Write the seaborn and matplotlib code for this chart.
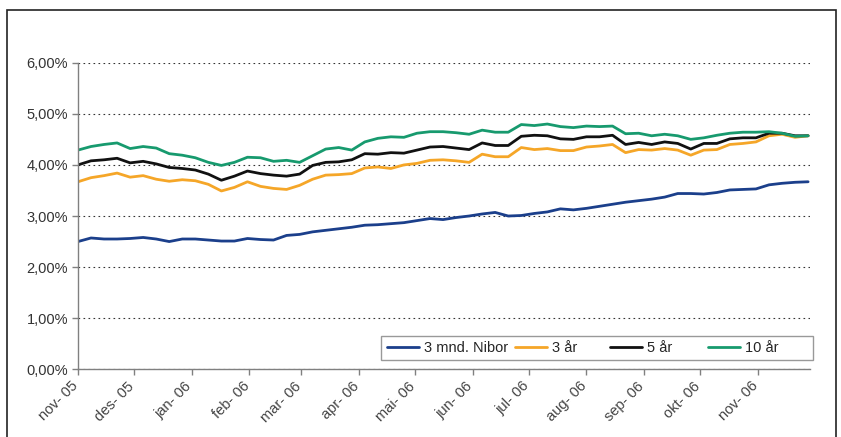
import pandas as pd
import matplotlib
matplotlib.use('Agg')
import matplotlib.pyplot as plt
import matplotlib.ticker as mticker
from matplotlib.patches import Rectangle
from matplotlib.transforms import ScaledTranslation
import seaborn as sns

# weekly readings, Nov 1 2005 - Nov 28 2006 (percent)
dates = pd.date_range('2005-11-01', periods=57, freq='7D')

nibor_3m = [2.50, 2.57, 2.55, 2.55, 2.56, 2.58, 2.55, 2.50, 2.55, 2.55,
            2.53, 2.51, 2.51, 2.56, 2.54, 2.53, 2.62, 2.64, 2.69, 2.72,
            2.75, 2.78, 2.82, 2.83, 2.85, 2.87, 2.91, 2.95, 2.93, 2.97,
            3.00, 3.04, 3.07, 3.00, 3.01, 3.05, 3.08, 3.14, 3.12, 3.15,
            3.19, 3.23, 3.27, 3.30, 3.33, 3.37, 3.44, 3.44, 3.43, 3.46,
            3.51, 3.52, 3.53, 3.61, 3.64, 3.66, 3.67]

yr3 = [3.67, 3.75, 3.79, 3.84, 3.76, 3.79, 3.72, 3.68, 3.71, 3.69,
       3.62, 3.49, 3.56, 3.67, 3.58, 3.54, 3.52, 3.60, 3.72, 3.80,
       3.81, 3.83, 3.94, 3.96, 3.93, 4.00, 4.03, 4.09, 4.10, 4.08,
       4.05, 4.21, 4.16, 4.16, 4.34, 4.30, 4.32, 4.28, 4.28, 4.35,
       4.37, 4.40, 4.24, 4.30, 4.29, 4.32, 4.29, 4.19, 4.29, 4.30,
       4.40, 4.42, 4.45, 4.57, 4.60, 4.54, 4.57]

yr5 = [4.00, 4.08, 4.10, 4.13, 4.04, 4.07, 4.02, 3.95, 3.93, 3.90,
       3.82, 3.70, 3.78, 3.88, 3.83, 3.80, 3.78, 3.82, 3.99, 4.05,
       4.06, 4.10, 4.22, 4.21, 4.24, 4.23, 4.29, 4.35, 4.36, 4.33,
       4.30, 4.43, 4.38, 4.38, 4.56, 4.58, 4.57, 4.51, 4.50, 4.55,
       4.55, 4.58, 4.40, 4.44, 4.40, 4.45, 4.42, 4.31, 4.42, 4.42,
       4.51, 4.53, 4.53, 4.62, 4.62, 4.57, 4.57]

yr10 = [4.29, 4.36, 4.40, 4.43, 4.32, 4.36, 4.33, 4.22, 4.19, 4.14,
        4.05, 3.99, 4.05, 4.15, 4.14, 4.07, 4.09, 4.05, 4.18, 4.31,
        4.34, 4.29, 4.45, 4.52, 4.55, 4.54, 4.62, 4.65, 4.65, 4.63,
        4.60, 4.68, 4.64, 4.64, 4.79, 4.77, 4.80, 4.75, 4.73, 4.76,
        4.75, 4.76, 4.61, 4.62, 4.57, 4.60, 4.57, 4.50, 4.53, 4.58,
        4.62, 4.64, 4.64, 4.65, 4.62, 4.56, 4.57]

series_names = ['3 mnd. Nibor', '3 år', '5 år', '10 år']
series_colors = ['#1b3f8b', '#f5a628', '#111111', '#179a6e']

month_ticks = pd.date_range('2005-11-01', '2006-11-01', freq='MS')
month_labels = ['nov- 05', 'des- 05', 'jan- 06', 'feb- 06', 'mar- 06', 'apr- 06',
                'mai- 06', 'jun- 06', 'jul- 06', 'aug- 06', 'sep- 06', 'okt- 06',
                'nov- 06']

sns.set_style('white')
plt.rcParams['font.family'] = ['Liberation Sans', 'DejaVu Sans']

fig = plt.figure(figsize=(8.41, 4.37), dpi=100)
ax = fig.add_axes([0.0927, 0.1549, 0.8704, 0.7016])

for vals, name, col in zip([nibor_3m, yr3, yr5, yr10], series_names, series_colors):
    sns.lineplot(x=dates, y=vals, color=col, linewidth=2.0, label=name, ax=ax)

ax.set_ylim(0, 6)
ax.set_xlim(pd.Timestamp('2005-11-01'), pd.Timestamp('2006-11-29'))
ax.yaxis.set_major_locator(mticker.MultipleLocator(1))
ax.yaxis.set_major_formatter(mticker.FuncFormatter(lambda v, p: f'{v:.2f}%'.replace('.', ',')))
ax.set_xticks(month_ticks)
ax.set_xticklabels(month_labels, rotation=45, ha='right', rotation_mode='anchor')
ax.set_xlabel('')
ax.set_ylabel('')

ax.grid(axis='y', color='#333333', linestyle=(0, (1.5, 3)), linewidth=0.8)
ax.grid(axis='x', visible=False)

for s in ['top', 'right']:
    ax.spines[s].set_visible(False)
for s in ['left', 'bottom']:
    ax.spines[s].set_color('#808080')
    ax.spines[s].set_linewidth(1.0)

ax.tick_params(axis='y', direction='out', length=4, width=1, color='#808080',
               labelsize=10.5, labelcolor='#333333', pad=3, left=True)
ax.tick_params(axis='x', direction='out', length=4, width=1, color='#808080',
               labelsize=10.5, labelcolor='#444444', pad=3, bottom=True)

# shift the rotated month labels a little to the left, like the original
shift = ScaledTranslation(-7 / 100, 0, fig.dpi_scale_trans)
for lbl in ax.get_xticklabels():
    lbl.set_transform(lbl.get_transform() + shift)

handles, labels = ax.get_legend_handles_labels()
labels = ['3 mnd. Nibor', '3 år      ', '5 år       ', '10 år       ']
leg = ax.legend(handles, labels, ncol=4, loc='lower right', bbox_to_anchor=(1.004, 0.03),
                borderaxespad=0, fontsize=10.5, frameon=True, fancybox=False,
                edgecolor='#808080', handlelength=2.2, handletextpad=0.35,
                columnspacing=0.5, borderpad=0.35)
leg.get_frame().set_linewidth(1.0)

fig.patches.append(Rectangle((7 / 841, -0.1), (836 - 7) / 841, 1.077,
                             transform=fig.transFigure, fill=False,
                             edgecolor='#222222', linewidth=1.2))

fig.savefig('out.png', dpi=100)
